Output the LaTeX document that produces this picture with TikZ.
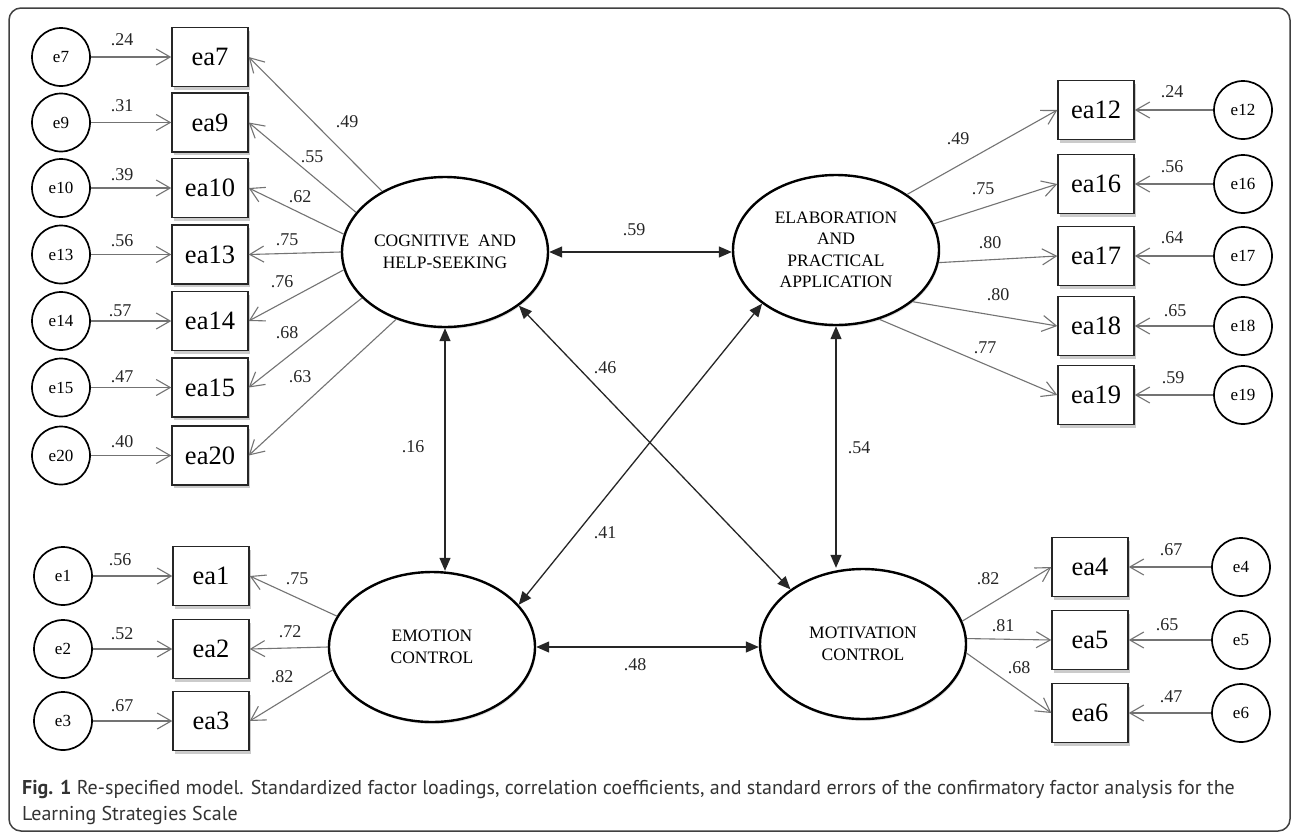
\documentclass[tikz,border=0pt]{standalone}
\usepackage{fontspec}
\setmainfont{Liberation Serif}
\newfontfamily\capfont{PT Sans}
\usetikzlibrary{arrows.meta,shapes.geometric,shadows}
\begin{document}
\begin{tikzpicture}[x=1pt,y=-1pt,
  errc/.style={circle, draw=black, line width=1.7pt, fill=white, minimum size=58pt, inner sep=0pt, font=\fontsize{17}{20}\selectfont},
  obs/.style={rectangle, draw=black!85, line width=1.4pt, fill=white, minimum width=76pt, minimum height=59pt, inner sep=0pt, font=\fontsize{26.5}{30}\selectfont,
    drop shadow={shadow xshift=1.5pt, shadow yshift=-3pt, fill=black!45, opacity=0.45}},
  lat/.style={ellipse, draw=black, line width=2.4pt, fill=white, minimum width=206pt, minimum height=150pt, inner sep=0pt, align=center, font=\fontsize{17.5}{21.5}\selectfont,
    drop shadow={shadow xshift=1pt, shadow yshift=-2pt, fill=black!40, opacity=0.3}},
  load/.style={draw=black!55, line width=1.1pt, -{Straight Barb[length=14pt,width=16pt]}},
  corr/.style={draw=black!85, line width=1.3pt, {Triangle[length=13pt,width=11pt]}-{Triangle[length=13pt,width=11pt]}},
  num/.style={font=\fontsize{18}{20}\selectfont, inner sep=0pt, text=black!85},
  capt/.style={anchor=west, inner sep=0pt, font=\capfont\fontsize{20}{22}\selectfont, text=black!80}
]
\useasboundingbox (0,0) rectangle (1292,833);
\fill[white] (0,0) rectangle (1292,833);
\draw[line width=1.5pt, black!75, rounded corners=12pt] (9,8) rectangle (1290,831);

% latent variables
\node[lat] (cog)  at (445,252) {COGNITIVE~ AND\\HELP-SEEKING};
\node[lat] (elab) at (836,250) {ELABORATION\\AND\\PRACTICAL\\APPLICATION};
\node[lat] (emo)  at (432,647) {EMOTION\\CONTROL};
\node[lat] (mot)  at (863,644) {MOTIVATION\\CONTROL};

% left top column
\foreach \n/\y in {7/57,9/122.5,10/188,13/254.5,14/321,15/387.5,20/455.5} {
  \node[errc] (e\n) at (61,\y) {e\n};
  \node[obs] (ea\n) at (210,\y) {ea\n};
  \draw[load] (e\n) -- (ea\n);
}
% left bottom column
\foreach \n/\y in {1/576,2/649,3/721} {
  \node[errc] (e\n) at (63,\y) {e\n};
  \node[obs] (ea\n) at (211,\y) {ea\n};
  \draw[load] (e\n) -- (ea\n);
}
% right top column
\foreach \n/\y in {12/110,16/184,17/256,18/326,19/395} {
  \node[errc] (e\n) at (1243,\y) {e\n};
  \node[obs] (ea\n) at (1096,\y) {ea\n};
  \draw[load] (e\n) -- (ea\n);
}
% right bottom column
\foreach \n/\y in {4/567,5/640,6/713} {
  \node[errc] (e\n) at (1241,\y) {e\n};
  \node[obs] (ea\n) at (1090,\y) {ea\n};
  \draw[load] (e\n) -- (ea\n);
}

% loadings
\draw[load] (cog.136) -- (ea7.east);
\draw[load] (cog.156.6) -- (ea9.east);
\draw[load] (cog.170.5) -- (ea10.east);
\draw[load] (cog.180) -- (ea13.east);
\draw[load] (cog.190) -- (ea14.east);
\draw[load] (cog.209) -- (ea15.east);
\draw[load] (cog.234) -- (ea20.east);

\draw[load] (elab.38.8) -- (ea12.west);
\draw[load] (elab.15.3) -- (ea16.west);
\draw[load] (elab.-7) -- (ea17.west);
\draw[load] (elab.-34) -- (ea18.west);
\draw[load] (elab.-58) -- (ea19.west);

\draw[load] (emo.162.4) -- (ea1.east);
\draw[load] (emo.180) -- (ea2.east);
\draw[load] (emo.193.5) -- (ea3.east);

\draw[load] (mot.13.5) -- (ea4.west);
\draw[load] (mot.3) -- (ea5.west);
\draw[load] (mot.-5) -- (ea6.west);

% correlations
\draw[corr] (cog.east) -- (cog.east -| elab.west);
\draw[corr] (cog.south) -- (cog.south |- emo.north);
\draw[corr] (elab.south) -- (elab.south |- mot.north);
\draw[corr] (cog.-36.7) -- (mot.143);
\draw[corr] (elab.216) -- (emo.26.8);
\draw[corr] (emo.east) -- (emo.east -| mot.west);

% numeric labels
\foreach \t/\x/\y [count=\i] in {
  .24/122/40, .31/122/106, .39/122/175, .56/122/241, .57/120/311, .47/122/377, .40/122/442,
  .49/347/122, .55/312/157, .62/300/197, .75/287/240, .76/282/282, .68/287/333, .63/300/377,
  .56/120/560, .52/122/634, .67/122/706,
  .75/297/579, .72/290/632, .82/282/677,
  .24/1172/92, .56/1172/167, .64/1172/238, .65/1175/311, .59/1173/378,
  .49/958/139, .75/983/189, .80/990/243, .80/998/295, .77/985/348,
  .67/1171/550, .65/1167/625, .47/1171/697,
  .82/988/579, .81/1003/626, .68/1019/668,
  .59/634/230, .16/413/447, .46/605/368, .41/605/533, .54/859/448, .48/635/665} {
  \node[num] (lbl\i) at (\x,\y) {\t};
}

% caption
\node[capt] (cap1) at (22,789) {\textbf{Fig. 1} Re-specified model. Standardized factor loadings, correlation coefficients, and standard errors of the confirmatory factor analysis for the};
\node[capt] (cap2) at (22,815) {Learning Strategies Scale};
\end{tikzpicture}
\end{document}
